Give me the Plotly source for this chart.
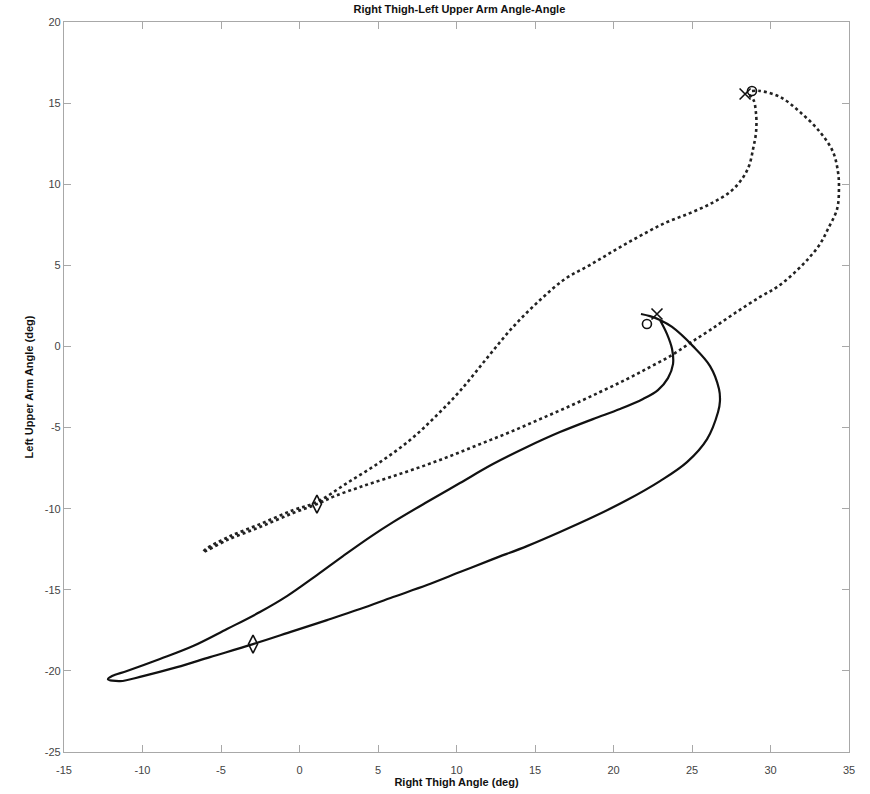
import plotly.graph_objects as go

# Dotted trajectory (right thigh vs left upper arm, condition A)
dot_x = [28.82, 29.33, 30.61, 31.88, 33.15, 33.98, 34.30, 34.36, 34.24, 33.66, 33.15,
         32.39, 31.43, 30.41, 29.33, 27.74, 26.15, 24.87, 23.73, 22.32, 20.86, 19.14,
         17.23, 15.32, 13.41, 11.50, 9.59, 7.68, 5.76, 3.85, 2.26, 1.11,
         -0.41, -2.52, -4.62, -6.15,
         -5.96, -4.55, -2.52, -0.41, 1.11, 3.03, 5.13, 7.04, 8.63, 10.22, 11.94,
         13.60, 15.32, 16.91, 18.50, 20.10, 21.69, 23.28, 24.87, 26.27, 27.42,
         28.18, 28.63, 28.89, 29.08, 29.08, 28.89, 28.44]
dot_y = [15.75, 15.75, 15.38, 14.45, 13.22, 11.99, 10.75, 9.70, 8.47, 7.24, 6.31,
         5.39, 4.46, 3.66, 3.05, 2.06, 1.01, 0.21, -0.53, -1.27, -2.01, -2.81,
         -3.67, -4.48, -5.28, -6.02, -6.76, -7.44, -8.06, -8.67, -9.22, -9.72,
         -10.27, -11.13, -11.94, -12.68,
         -12.49, -11.75, -10.95, -10.09, -9.59, -8.42, -7.13, -5.77, -4.35, -2.75, -0.72,
         1.20, 2.86, 4.16, 5.02, 5.94, 6.81, 7.61, 8.22, 8.84, 9.52,
         10.32, 11.12, 12.17, 13.22, 14.33, 15.25, 15.62]

# Solid trajectory (condition B)
sol_x = [21.75, 22.32, 22.96, 23.73, 25.06, 26.15, 26.72, 26.78, 26.66, 25.96, 24.68,
         22.96, 20.86, 18.69, 16.59, 14.49, 12.32, 10.22, 8.12, 5.96, 3.85, 1.75, -0.41,
         -2.96, -5.70, -7.80, -9.97, -11.43, -12.20, -11.94, -10.99, -8.89, -6.78, -4.62,
         -2.52, -0.80, 1.11, 2.77, 4.49, 5.96, 8.12, 10.22, 12.32, 14.49, 16.59, 18.69,
         20.41, 21.88, 22.83, 23.47, 23.79, 23.73, 23.41, 22.96]
sol_y = [2.00, 1.87, 1.63, 1.20, 0.02, -1.21, -2.63, -3.37, -4.04, -5.71, -7.13,
         -8.30, -9.47, -10.52, -11.44, -12.31, -13.11, -13.91, -14.71, -15.45, -16.19, -16.87, -17.55,
         -18.35, -19.15, -19.77, -20.32, -20.63, -20.51, -20.32, -20.01, -19.27, -18.47, -17.42,
         -16.37, -15.39, -14.09, -12.92, -11.75, -10.83, -9.59, -8.42, -7.25, -6.20, -5.28, -4.48,
         -3.86, -3.24, -2.69, -1.95, -1.09, -0.16, 0.76, 1.63]

# Event markers: start (circle), end (cross), mid event (diamond)
dot_start = (28.82, 15.75)
dot_end = (28.38, 15.56)
dot_event = (1.11, -9.72)
sol_start = (22.13, 1.38)
sol_end = (22.77, 2.00)
sol_event = (-2.96, -18.35)

x_ticks = [-15, -10, -5, 0, 5, 10, 15, 20, 25, 30, 35]
y_ticks = [-25, -20, -15, -10, -5, 0, 5, 10, 15, 20]

FONT = "Liberation Sans, Arial, sans-serif"

fig = go.Figure()

fig.add_trace(go.Scatter(x=dot_x, y=dot_y, mode="lines",
                         line=dict(color="#222", width=2.6, dash="dot", shape="spline", smoothing=1.0),
                         hoverinfo="skip"))
fig.add_trace(go.Scatter(x=sol_x, y=sol_y, mode="lines",
                         line=dict(color="#111", width=2.2, shape="spline", smoothing=1.0),
                         hoverinfo="skip"))


def add_marker(pt, symbol, size):
    fig.add_trace(go.Scatter(x=[pt[0]], y=[pt[1]], mode="markers",
                             marker=dict(symbol=symbol, size=size, color="#111",
                                         line=dict(color="#111", width=1.6)),
                             hoverinfo="skip"))


add_marker(dot_start, "circle-open", 9)
add_marker(dot_end, "x-thin-open", 11)
add_marker(dot_event, "diamond-tall-open", 13)
add_marker(sol_start, "circle-open", 9)
add_marker(sol_end, "x-thin-open", 11)
add_marker(sol_event, "diamond-tall-open", 13)

axis_common = dict(
    showgrid=False, zeroline=False, showline=True, mirror="ticks",
    linecolor="#a8a8a8", linewidth=1.2, ticks="inside", ticklen=7,
    tickcolor="#a8a8a8", tickwidth=1, automargin=False,
    tickfont=dict(family=FONT, size=11, color="#444"),
)

fig.update_layout(
    width=870, height=794,
    margin=dict(l=64, r=21, t=22, b=42),
    paper_bgcolor="white", plot_bgcolor="white",
    showlegend=False,
    title=dict(text="<b>Right Thigh-Left Upper Arm Angle-Angle</b>",
               x=0.528, xanchor="center", y=0.988, yanchor="middle",
               font=dict(family=FONT, size=11, color="#111")),
    xaxis=dict(range=[-15, 35], tickvals=x_ticks, ticktext=[str(v) for v in x_ticks],
               ticklabelstandoff=8,
               title=dict(text="<b>Right Thigh Angle (deg)</b>", standoff=2,
                          font=dict(family=FONT, size=11, color="#111")),
               **axis_common),
    yaxis=dict(range=[-25, 20], tickvals=y_ticks, ticktext=[str(v) for v in y_ticks],
               title=dict(text="<b>Left Upper Arm Angle (deg)</b>", standoff=8,
                          font=dict(family=FONT, size=11, color="#111")),
               **axis_common),
)

fig.write_html("out.html")
